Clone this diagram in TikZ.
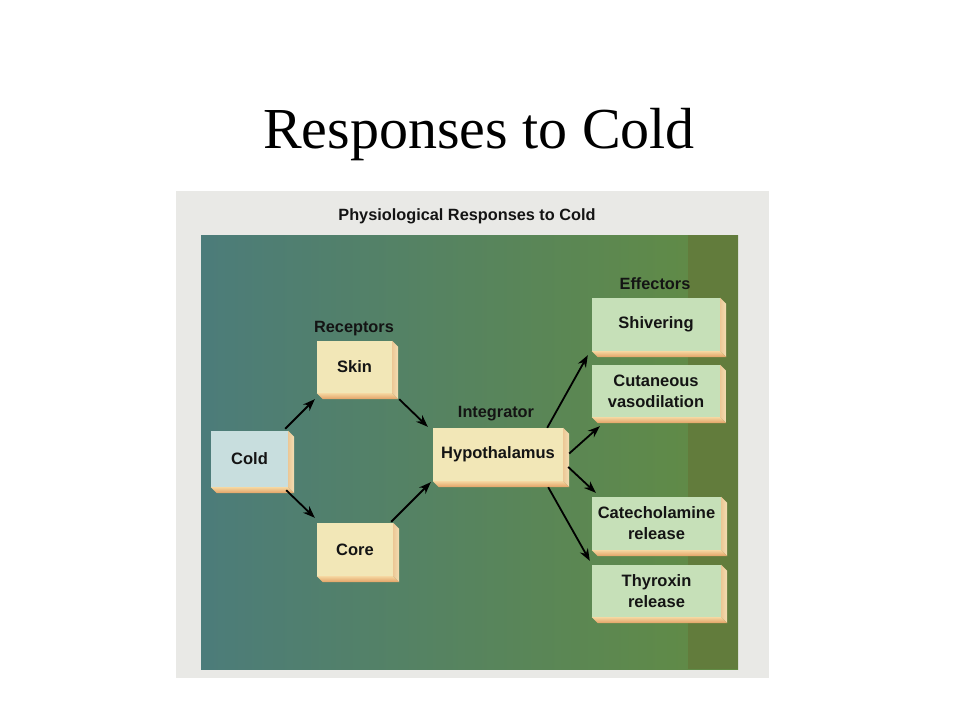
\documentclass[tikz,border=0pt]{standalone}
\usepackage{fontspec}
\setmainfont{Liberation Serif}
\newfontfamily\hv{Liberation Sans}
\usetikzlibrary{arrows.meta,calc}
\definecolor{framegray}{RGB}{233,233,230}
\definecolor{bgleft}{RGB}{76,124,122}
\definecolor{bgmid}{RGB}{86,131,94}
\definecolor{bgright}{RGB}{98,140,66}
\definecolor{bgstrip}{RGB}{98,124,60}
\definecolor{creamface}{RGB}{242,231,183}
\definecolor{greenface}{RGB}{198,224,184}
\definecolor{blueface}{RGB}{200,222,222}
\definecolor{bottomtop}{RGB}{245,214,160}
\definecolor{bottombot}{RGB}{226,160,100}
\definecolor{sideleft}{RGB}{236,200,150}
\definecolor{sideright}{RGB}{244,222,180}
\definecolor{inktext}{RGB}{20,20,20}
\tikzset{
  boxface/.style={inner sep=0pt, align=center, text=inktext,
    font=\hv\bfseries\fontsize{16.5}{21}\selectfont},
  creambox/.style={boxface, fill=creamface},
  greenbox/.style={boxface, fill=greenface},
  bluebox/.style={boxface, fill=blueface},
  grouplabel/.style={anchor=base, text=inktext, font=\hv\bfseries\fontsize{16.3}{19}\selectfont},
  flow/.style={draw=black, line width=1.8pt, -{Stealth[length=12pt,width=9pt]}}
}
\newcommand{\extrude}[1]{%
  \shade[left color=sideleft, right color=sideright]
    (#1.north east) -- ++(6,6) -- ($(#1.south east)+(6,6)$) -- (#1.south east) -- cycle;
  \shade[top color=bottomtop, bottom color=bottombot]
    (#1.south west) -- (#1.south east) -- ($(#1.south east)+(6,6)$) -- ($(#1.south west)+(6,6)$) -- cycle;
}
\begin{document}
\begin{tikzpicture}[x=1pt,y=-1pt]
\useasboundingbox (0,0) rectangle (960,720);
\fill[white] (0,0) rectangle (960,720);
% title
\node[anchor=base, font=\fontsize{58}{60}\selectfont] (title) at (479,148) {Responses to Cold};
% panel
\fill[framegray] (176,191) rectangle (769,678);
\node[grouplabel] (heading) at (467,220) {Physiological Responses to Cold};
\shade[left color=bgleft, middle color=bgmid, right color=bgright] (201,235) rectangle (738,669);
\fill[bgstrip] (688,235) rectangle (738,669);
% boxes
\node[bluebox, minimum width=77pt, minimum height=56pt] (cold) at (249.5,459) {Cold};
\node[creambox, minimum width=75pt, minimum height=52pt] (skin) at (354.5,367) {Skin};
\node[creambox, minimum width=76pt, minimum height=53pt] (core) at (355,549.5) {Core};
\node[creambox, minimum width=130pt, minimum height=53pt] (hypo) at (498,454.5) {Hypothalamus};
\node[greenbox, minimum width=128pt, minimum height=53pt] (shiv) at (656,324.5) {Shivering};
\node[greenbox, minimum width=128pt, minimum height=52pt] (cut) at (656,391) {Cutaneous\\vasodilation};
\node[greenbox, minimum width=129pt, minimum height=53pt] (cat) at (656.5,523.5) {Catecholamine\\release};
\node[greenbox, minimum width=129pt, minimum height=52pt] (thy) at (656.5,591) {Thyroxin\\release};
\extrude{cold}
\extrude{skin}
\extrude{core}
\extrude{hypo}
\extrude{shiv}
\extrude{cut}
\extrude{cat}
\extrude{thy}
% group labels
\node[grouplabel] (receptors) at (354,332) {Receptors};
\node[grouplabel] (integrator) at (496,417) {Integrator};
\node[grouplabel] (effectors) at (655,289) {Effectors};
% connectors
\draw[flow] ($(cold.north east)+(-3,-2)$) -- ($(skin.south west)+(-2,6)$);
\draw[flow] ($(skin.south east)+(7,6)$) -- ($(hypo.north west)+(-5,-1)$);
\draw[flow] ($(cold.south east)+(-2,3)$) -- ($(core.north west)+(-2,-5)$);
\draw[flow] ($(core.north east)+(-2,-1)$) -- ($(hypo.south west)+(-2,1)$);
\draw[flow] ($(hypo.north east)+(-16,0)$) -- ($(shiv.south west)+(-4,4)$);
\draw[flow] ($(hypo.east)+(6,-1)$) -- ($(cut.south west)+(8,9)$);
\draw[flow] ($(hypo.east)+(5,12.5)$) -- ($(cat.north west)+(4,-4)$);
\draw[flow] ($(hypo.south east)+(-15,6)$) -- ($(thy.north west)+(-2,-4)$);
\end{tikzpicture}
\end{document}
